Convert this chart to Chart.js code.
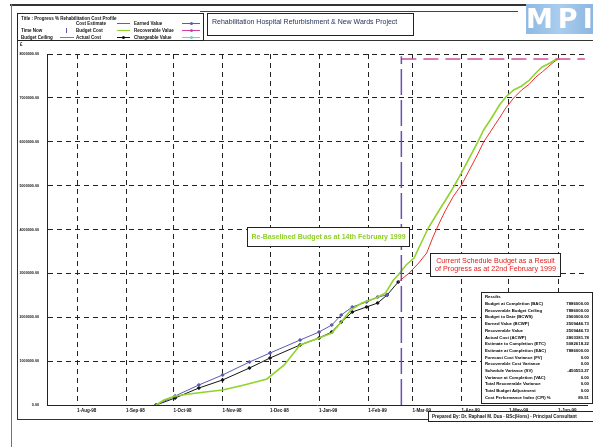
<!DOCTYPE html>
<html>
<head>
<meta charset="utf-8">
<script src="https://cdn.jsdelivr.net/npm/chart.js@4/dist/chart.umd.min.js"></script>
<style>
  html, body { margin: 0; padding: 0; background: #fff; }
  #wrap { position: relative; width: 593px; height: 447px; overflow: hidden; font-family: "Liberation Sans", Arial, sans-serif; }
  #chart { position: absolute; left: 0; top: 0; }
  .abs { position: absolute; }
  .box { position: absolute; background: #fff; border: 1px solid #222; box-sizing: border-box; }
  .tiny { position: absolute; font-size: 4.5px; font-weight: bold; color: #111; white-space: nowrap; line-height: 5px; }
  .sym { position: absolute; height: 0; }
  .dot { position: absolute; width: 3px; height: 3px; border-radius: 50%; }
  #results .row { position: absolute; left: 3px; right: 3px; font-size: 4.3px; font-weight: bold; line-height: 5px; white-space: nowrap; }
  #results .row span { position: absolute; right: 0; }
</style>
</head>
<body>
<div id="wrap">
  <canvas id="chart" width="593" height="447"></canvas>

  <!-- page frame -->
  <div class="abs" style="left:10px;top:4px;width:583px;border-top:2px solid #333"></div>
  <div class="abs" style="left:200px;top:11px;width:318px;border-top:1px solid #444"></div>
  <div class="abs" style="left:11px;top:4px;height:443px;border-left:1.5px solid #6a7388"></div>
  <div class="abs" style="left:17px;top:40px;width:590px;height:380px;border:1px solid #333;box-sizing:border-box"></div>

  <!-- legend -->
  <div class="box" style="left:17px;top:13px;width:187px;height:28px">
    <div class="tiny" style="left:3px;top:2px">Title : Progress % Rehabilitation Cost Profile</div>
    <div class="tiny" style="left:3px;top:14px">Time Now</div>
    <div class="tiny" style="left:3px;top:21px">Budget Ceiling</div>
    <div class="abs" style="left:48px;top:14px;height:5px;border-left:1.5px solid #6a4fb0"></div>
    <div class="sym" style="left:42px;top:23px;width:14px;border-top:1.5px solid #d0509a"></div>

    <div class="tiny" style="left:58px;top:7px">Cost Estimate</div>
    <div class="tiny" style="left:58px;top:14px">Budget Cost</div>
    <div class="tiny" style="left:58px;top:21px">Actual Cost</div>
    <div class="sym" style="left:99px;top:9px;width:13px;border-top:1.5px solid #e8322a"></div>
    <div class="sym" style="left:99px;top:16px;width:13px;border-top:1.5px solid #8fd42a"></div>
    <div class="sym" style="left:99px;top:23px;width:13px;border-top:1px solid #111"></div>
    <div class="dot" style="left:104px;top:22px;background:#111"></div>

    <div class="tiny" style="left:116px;top:7px">Earned Value</div>
    <div class="tiny" style="left:116px;top:14px">Recoverable Value</div>
    <div class="tiny" style="left:116px;top:21px">Chargeable Value</div>
    <div class="sym" style="left:164px;top:9px;width:18px;border-top:1px solid #5a5ab0"></div>
    <div class="dot" style="left:172px;top:8px;background:#5a5ab0"></div>
    <div class="sym" style="left:164px;top:16px;width:18px;border-top:1px solid #d040a0"></div>
    <div class="dot" style="left:172px;top:15px;background:#d040a0"></div>
    <div class="sym" style="left:164px;top:23px;width:18px;border-top:1px solid #60d0d8"></div>
    <div class="dot" style="left:172px;top:22px;background:#60d0d8"></div>
  </div>

  <!-- title -->
  <div class="box" style="left:207px;top:13px;width:207px;height:23px;border-width:1.5px">
    <div class="abs" style="left:4px;top:4px;font-size:7px;color:#27335e;white-space:nowrap">Rehabilitation Hospital Refurbishment &amp; New Wards Project</div>
  </div>

  <!-- logo -->
  <div class="abs" style="left:526px;top:4px;width:67px;height:30px;background:linear-gradient(90deg,#8fb9e3,#a9cdee 50%,#8db6e0);color:#fff;font-weight:bold;font-size:27px;line-height:30px;letter-spacing:5px;text-align:center;font-family:'DejaVu Sans',sans-serif">MPI</div>

  <div class="tiny" style="left:20px;top:42px">£</div>

  <!-- annotations -->
  <div class="box" style="left:247px;top:227px;width:163px;height:20px">
    <div class="abs" style="left:0;right:0;top:5px;text-align:center;font-size:7px;font-weight:bold;color:#8fd02a;white-space:nowrap">Re-Baselined Budget as at 14th February 1999</div>
  </div>
  <div class="box" style="left:430px;top:253px;width:131px;height:24px">
    <div class="abs" style="left:0;right:0;top:3px;text-align:center;font-size:7.2px;color:#e0201c;line-height:8px;white-space:nowrap">Current Schedule Budget as a Result<br>of Progress as at 22nd February 1999</div>
  </div>

  <!-- results -->
  <div id="results" class="box" style="left:481px;top:292px;width:112px;height:112px;border-width:1.5px"></div>

  <!-- footer -->
  <div class="box" style="left:428px;top:411px;width:170px;height:11px">
    <div class="tiny" style="left:3px;top:2px">Prepared By: Dr. Raphael M. Dua - BSc(Hons) - Principal Consultant</div>
  </div>
</div>

<script>
// month ticks on the date axis
const tickDates = ["1998-08-01", "1998-09-01", "1998-10-01", "1998-11-01", "1998-12-01", "1999-01-01",
  "1999-02-01", "1999-03-01", "1999-04-01", "1999-05-01", "1999-06-01"];
const tickLabels = ["1-Aug-98", "1-Sep-98", "1-Oct-98", "1-Nov-98", "1-Dec-98", "1-Jan-99",
  "1-Feb-99", "1-Mar-99", "1-Apr-99", "1-May-99", "1-Jun-99"];

// re-baselined budget (green)
const budgetDates = ["1998-09-20", "1998-09-25", "1998-10-02", "1998-10-11", "1998-10-21", "1998-11-01",
  "1998-11-12", "1998-11-22", "1998-11-29", "1998-12-10", "1998-12-20", "1999-01-01", "1999-01-09",
  "1999-01-15", "1999-01-21", "1999-01-28", "1999-02-06", "1999-02-12", "1999-02-17", "1999-02-20",
  "1999-02-25", "1999-03-02", "1999-03-05", "1999-03-11", "1999-03-18", "1999-03-22", "1999-03-27",
  "1999-04-01", "1999-04-06", "1999-04-11", "1999-04-15", "1999-04-20", "1999-04-25", "1999-04-29",
  "1999-05-04", "1999-05-09", "1999-05-14", "1999-05-18", "1999-05-22", "1999-05-27", "1999-05-30", "1999-06-02"];
const budgetValues = [0, 114000, 205000, 251000, 296000, 342000, 433000, 524000, 593000, 912000, 1368000,
  1527000, 1641000, 1892000, 2165000, 2325000, 2439000, 2553000, 2849000, 2963000, 3191000, 3350000,
  3578000, 4034000, 4444000, 4672000, 4969000, 5288000, 5630000, 5972000, 6268000, 6541000, 6838000,
  7020000, 7179000, 7271000, 7407000, 7567000, 7704000, 7795000, 7863000, 7886000];

// current schedule budget (red)
const currentDates = ["1999-02-20", "1999-02-27", "1999-03-05", "1999-03-10", "1999-03-14", "1999-03-18",
  "1999-03-22", "1999-03-27", "1999-04-01", "1999-04-06", "1999-04-11", "1999-04-15", "1999-04-20",
  "1999-04-25", "1999-04-29", "1999-05-04", "1999-05-09", "1999-05-14", "1999-05-18", "1999-05-22",
  "1999-05-27", "1999-05-31", "1999-06-02"];
const currentValues = [2803000, 3009000, 3237000, 3464000, 3829000, 4148000, 4444000, 4764000, 5014000,
  5356000, 5698000, 5994000, 6268000, 6541000, 6769000, 6997000, 7179000, 7316000, 7476000, 7590000,
  7749000, 7863000, 7886000];

// actual cost (black)
const actualDates = ["1998-09-20", "1998-10-02", "1998-10-17", "1998-11-01", "1998-11-18", "1998-12-01",
  "1998-12-20", "1999-01-01", "1999-01-09", "1999-01-15", "1999-01-22", "1999-01-31", "1999-02-07",
  "1999-02-13", "1999-02-20"];
const actualValues = [0, 160000, 387000, 570000, 843000, 1071000, 1368000, 1527000, 1664000, 1892000,
  2120000, 2234000, 2325000, 2507000, 2803000];

// earned value (blue)
const earnedDates = ["1998-09-20", "1998-10-02", "1998-10-17", "1998-11-01", "1998-11-18", "1998-12-01",
  "1998-12-20", "1999-01-01", "1999-01-09", "1999-01-15", "1999-01-22", "1999-01-31", "1999-02-07", "1999-02-13"];
const earnedValues = [0, 205000, 456000, 684000, 980000, 1185000, 1481000, 1664000, 1823000, 2051000,
  2234000, 2348000, 2462000, 2507000];

const timeNow = "1999-02-22";
const ceilingValue = 7886000;
const ceilingEnd = "1999-06-18";

const resultRows = [
  ["Budget at Completion (BAC)", "7886000.00"],
  ["Recoverable Budget Ceiling", "7886000.00"],
  ["Budget to Date (BCWS)", "2960000.00"],
  ["Earned Value (BCWP)", "2509446.73"],
  ["Recoverable Value", "2509446.73"],
  ["Actual Cost (ACWP)", "2803381.78"],
  ["Estimate to Completion (ETC)", "5082618.22"],
  ["Estimate at Completion (EAC)", "7886000.00"],
  ["Forecast Cost Variance (FV)", "0.00"],
  ["Recoverable Cost Variance", "0.00"],
  ["Schedule Variance (SV)", "-450553.27"],
  ["Variance at Completion (VAC)", "0.00"],
  ["Total Recoverable Variance", "0.00"],
  ["Total Budget Adjustment", "0.00"],
  ["Cost Performance Index (CPI) %", "89.51"]
];

const DAY0 = Date.UTC(1998, 7, 1);
function day(s) {
  const [y, m, d] = s.split("-").map(Number);
  return (Date.UTC(y, m - 1, d) - DAY0) / 864e5;
}
const pts = (dates, vals) => dates.map((d, i) => ({ x: day(d), y: vals[i] }));

const res = document.getElementById("results");
res.innerHTML = '<div class="row" style="top:1px">Results</div>' +
  resultRows.map((r, i) => `<div class="row" style="top:${8 + i * 6.7}px">${r[0]}<span>${r[1]}</span></div>`).join("");

const tickDays = tickDates.map(day);
const pxPerDay = 481 / 304;

new Chart(document.getElementById("chart"), {
  type: "line",
  data: {
    datasets: [
      { data: [{ x: day(timeNow), y: 0 }, { x: day(timeNow), y: 7950000 }], borderColor: "#6a4fb0",
        borderWidth: 1.5, borderDash: [26, 5], pointRadius: 0 },
      { data: [{ x: day(timeNow), y: ceilingValue }, { x: day(ceilingEnd), y: ceilingValue }], borderColor: "#d0509a",
        borderWidth: 1.5, borderDash: [15, 7], pointRadius: 0 },
      { data: pts(budgetDates, budgetValues), borderColor: "#8fd42a", borderWidth: 1.6, pointRadius: 0 },
      { data: pts(currentDates, currentValues), borderColor: "#e8322a", borderWidth: 1, pointRadius: 0 },
      { data: pts(earnedDates, earnedValues), borderColor: "#5a5ab0", backgroundColor: "#5a5ab0",
        borderWidth: 1, pointRadius: 1.3 },
      { data: pts(actualDates, actualValues), borderColor: "#151515", backgroundColor: "#151515",
        borderWidth: 1, pointRadius: 1.3 }
    ]
  },
  options: {
    responsive: false,
    animation: false,
    devicePixelRatio: 1,
    layout: { padding: { top: 54, right: 6, left: 0, bottom: 0 } },
    plugins: { legend: { display: false }, tooltip: { enabled: false } },
    elements: { line: { tension: 0 } },
    scales: {
      x: {
        type: "linear",
        min: -30 / pxPerDay,
        max: -30 / pxPerDay + 540 / pxPerDay,
        afterFit: s => { s.height = 42; },
        afterBuildTicks: s => { s.ticks = tickDays.map(v => ({ value: v })); },
        ticks: {
          autoSkip: false, maxRotation: 0, align: "start", padding: 3, color: "#111",
          font: { size: 4.5, weight: "bold", family: "Liberation Sans" },
          callback: v => tickLabels[tickDays.indexOf(v)]
        },
        grid: { color: "#222", lineWidth: 1, drawTicks: false },
        border: { color: "#222", width: 1, dash: [5, 4] }
      },
      y: {
        min: 0,
        max: 8000000,
        afterFit: s => { s.width = 47; },
        ticks: {
          stepSize: 1000000, padding: 8, color: "#111",
          font: { size: 3.7, weight: "bold", family: "Liberation Sans" },
          callback: v => v.toFixed(2)
        },
        grid: { color: "#222", lineWidth: 1, drawTicks: false },
        border: { color: "#222", width: 1, dash: [5, 4] }
      }
    }
  }
});
</script>
</body>
</html>
